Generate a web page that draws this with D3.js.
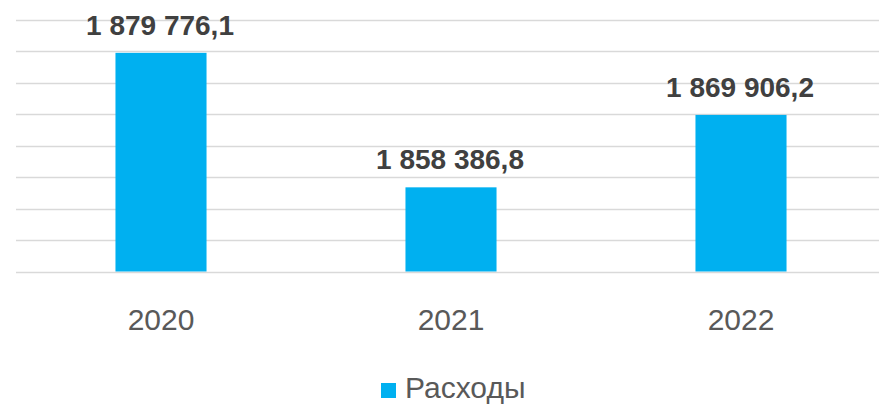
<!DOCTYPE html>
<html lang="ru">
<head>
  <meta charset="utf-8">
  <title>Расходы</title>
  <style>
    body { margin: 0; background: #fff; }
    svg { display: block; font-family: "Liberation Sans", Arial, sans-serif; }
  </style>
</head>
<body>
  <script src="https://cdnjs.cloudflare.com/ajax/libs/d3/7.8.5/d3.min.js"></script>
  <div class="visHolder"></div>
  <script>
const years = ['2020', '2021', '2022'];
const spending = [1879776.1, 1858386.8, 1869906.2];
const seriesName = 'Расходы';
const yMin = 1845000, yMax = 1885000, yStep = 5000;

const width = 879, height = 406;
const barColor = '#00b0f0';

const svg = d3.select('.visHolder')
  .append('svg')
  .attr('width', width)
  .attr('height', height);

const xScale = d3.scaleBand()
  .domain(years)
  .range([16, 886])
  .padding(0);

const yScale = d3.scaleLinear()
  .domain([yMin, yMax])
  .range([271.5, 20]);

// gridlines
const gridVals = d3.range(yMin, yMax + 1, yStep);
svg.append('g')
  .selectAll('line')
  .data(gridVals)
  .enter()
  .append('line')
  .attr('x1', 16)
  .attr('x2', width)
  .attr('y1', d => Math.round(yScale(d)) + 0.5)
  .attr('y2', d => Math.round(yScale(d)) + 0.5)
  .attr('stroke', '#d9d9d9')
  .attr('stroke-width', 1.5);

const barW = xScale.bandwidth() * 0.314;

svg.append('g')
  .selectAll('rect')
  .data(spending)
  .enter()
  .append('rect')
  .attr('x', (d, i) => xScale(years[i]) + xScale.bandwidth() / 2 - barW / 2)
  .attr('y', d => yScale(d))
  .attr('width', barW)
  .attr('height', d => yScale(yMin) - yScale(d))
  .style('fill', barColor);

// value labels
const fmt = d3.formatLocale({ decimal: ',', thousands: ' ', grouping: [3], currency: ['', ''] }).format(',.1f');
svg.append('g')
  .selectAll('text')
  .data(spending)
  .enter()
  .append('text')
  .attr('x', (d, i) => xScale(years[i]) + xScale.bandwidth() / 2 - 1)
  .attr('y', d => yScale(d) - 18)
  .attr('text-anchor', 'middle')
  .attr('font-size', 28)
  .attr('font-weight', 'bold')
  .attr('fill', '#404040')
  .text(d => fmt(d));

// x axis labels
const xAxis = d3.axisBottom(xScale).tickSize(0).tickPadding(0);
const xg = svg.append('g')
  .attr('transform', 'translate(0, 330)')
  .call(xAxis);
xg.select('.domain').remove();
xg.selectAll('text')
  .attr('dy', 0)
  .attr('y', 0)
  .attr('font-size', 30)
  .attr('font-family', '"Liberation Sans", Arial, sans-serif')
  .attr('fill', '#595959');

// legend
const legend = svg.append('g').attr('transform', 'translate(381, 383)');
legend.append('rect')
  .attr('width', 15)
  .attr('height', 15)
  .style('fill', barColor);
legend.append('text')
  .attr('x', 24)
  .attr('y', 15)
  .attr('font-size', 30)
  .attr('fill', '#595959')
  .text(seriesName);
  </script>
</body>
</html>
